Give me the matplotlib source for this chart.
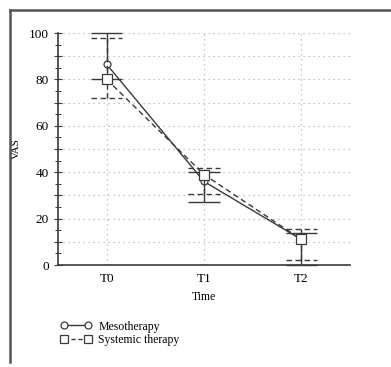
import numpy as np
import matplotlib
matplotlib.use("Agg")
import matplotlib.pyplot as plt
from matplotlib.ticker import MultipleLocator, FuncFormatter
from matplotlib.lines import Line2D

plt.rcParams['font.family'] = ['Liberation Serif', 'DejaVu Serif']
plt.rcParams['font.size'] = 8.5

# data
times = ["T0", "T1", "T2"]
meso_mean = [86.5, 36.0, 11.0]
meso_low = [80.0, 27.0, 0.0]
meso_high = [100.0, 40.0, 14.0]
sys_mean = [80.0, 39.0, 11.0]
sys_low = [72.0, 30.5, 2.0]
sys_high = [98.0, 42.0, 15.5]

col = "#3a3a3a"

fig = plt.figure(figsize=(3.91, 3.67), dpi=100)
ax = fig.add_axes([58/391, 1-265/367, (350-58)/391, (265-33)/367])

x = np.arange(len(times))

def draw(mean, low, high, ls, marker, ms, z):
    mean = np.array(mean)
    low = np.array(low)
    high = np.array(high)
    ax.vlines(x, low, high, colors=col, linestyles=ls, lw=1.0, zorder=z)
    ax.hlines(high, x - 0.16, x + 0.16, colors=col, linestyles=ls, lw=1.0, zorder=z, clip_on=False)
    ax.hlines(low, x - 0.16, x + 0.16, colors=col, linestyles=ls, lw=1.0, zorder=z, clip_on=False)
    ax.plot(x, mean, color=col, ls=ls, lw=1.0, marker=marker, ms=ms,
            mfc="white", mec=col, mew=0.9, zorder=z + 1, clip_on=False)

draw(meso_mean, meso_low, meso_high, "-", "o", 5.0, 3)
draw(sys_mean, sys_low, sys_high, (0, (4, 2.5)), "s", 6.8, 5)

ax.set_xlim(-0.5, 2.5)
ax.set_ylim(0, 100)
ax.set_xticks(x)
ax.set_xticklabels(times)
ax.yaxis.set_major_locator(MultipleLocator(10))
ax.yaxis.set_minor_locator(MultipleLocator(5))
ax.yaxis.set_major_formatter(FuncFormatter(lambda v, p: "%d" % v if int(round(v)) % 20 == 0 else ""))
ax.tick_params(axis="y", which="major", direction="inout", length=6, width=0.8, color=col, labelsize=9.5)
ax.tick_params(axis="y", which="minor", direction="inout", length=4, width=0.7, color=col)
ax.tick_params(axis="x", length=0, labelsize=9.5, pad=6)

ax.grid(True, which="major", color="#b5b5b5", linestyle=(0, (1, 3)), lw=0.9)
ax.set_axisbelow(True)

for s in ["top", "right"]:
    ax.spines[s].set_visible(False)
for s in ["left", "bottom"]:
    ax.spines[s].set_color(col)
    ax.spines[s].set_linewidth(1.2)

ax.set_xlabel("Time", fontsize=8.5, labelpad=4)
ax.set_ylabel("VAS", fontsize=8, labelpad=6)

handles = [
    Line2D([], [], color=col, ls="-", lw=1.0, marker="o", ms=5.0, mfc="white", mec=col, mew=0.9),
    Line2D([], [], color=col, ls=(0, (3, 2)), lw=1.0, marker="s", ms=6.0, mfc="white", mec=col, mew=0.9),
]
fig.legend(handles, ["Mesotherapy", "Systemic therapy"], loc="upper left",
           bbox_to_anchor=(50/391, 1-310/367), frameon=False, numpoints=2,
           handlelength=2.6, handletextpad=0.6, labelspacing=0.15, fontsize=8.5)

# outer frame
fig.add_artist(Line2D([10/391, 10/391], [1-10/367, 1-362/367], color="#555555", lw=1.8))
fig.add_artist(Line2D([10/391, 1.0], [1-10/367, 1-10/367], color="#555555", lw=1.8))

fig.savefig("out.png", dpi=100)
